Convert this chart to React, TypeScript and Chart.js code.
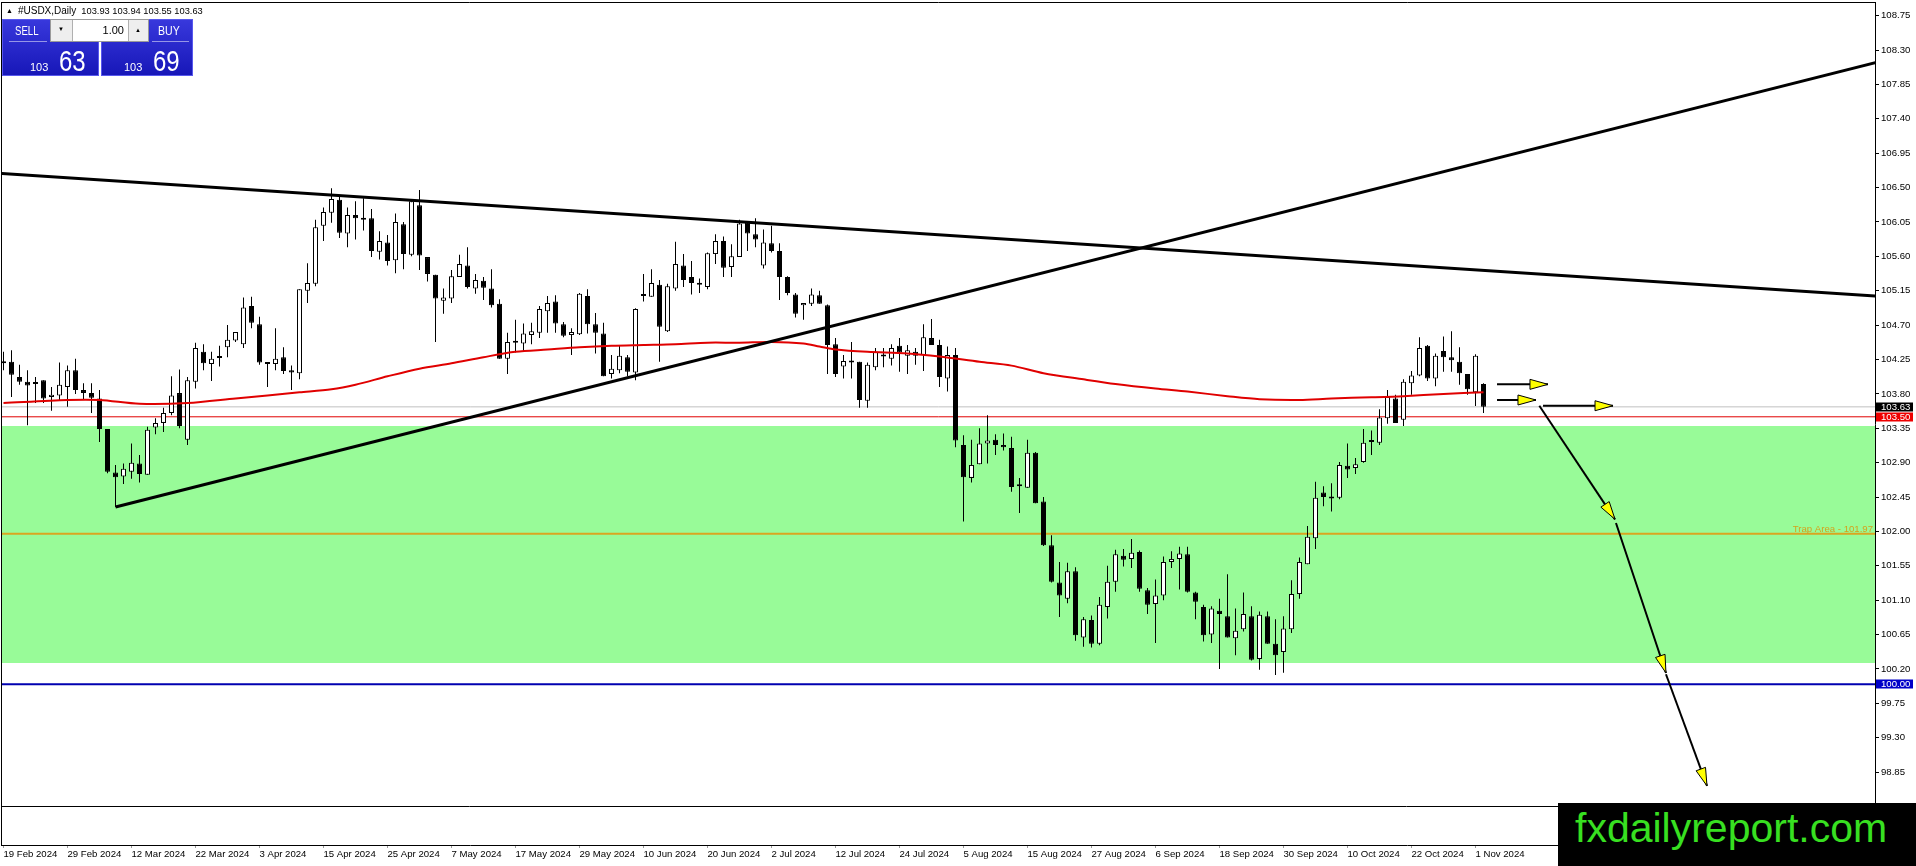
import React, { useEffect, useRef } from "react";
import { Chart, registerables } from "chart.js";

Chart.register(...registerables);

const FONT = "'Liberation Sans', Arial, sans-serif";
const AXIS_FONT_SIZE = 9.6;

// ---------- DATA ----------
const symbolName = "#USDX,Daily";
const askPrice = 103.69;
const lotSize = "1.00";

const openP = [
  104.20, 104.22, 104.02, 103.96, 103.94, 103.98, 103.76, 103.78, 103.89, 104.11,
  103.85, 103.81, 103.74, 103.34, 102.77, 102.72, 102.78, 102.89, 102.74, 103.36,
  103.42, 103.55, 103.81, 103.20, 103.96, 104.35, 104.19, 104.27, 104.41, 104.50,
  104.45, 104.95, 104.71, 104.21, 104.19, 104.28, 104.11, 104.07, 105.15, 105.24,
  106.00, 106.17, 106.34, 105.90, 106.14, 106.08, 106.10, 105.66, 105.78, 105.55,
  106.02, 105.62, 106.27, 105.59, 105.36, 105.02, 105.05, 105.33, 105.48, 105.18,
  105.28, 105.18, 104.98, 104.26, 104.48, 104.46, 104.57, 104.60, 104.88, 105.01,
  104.71, 104.57, 104.58, 105.08, 104.71, 104.59, 104.06, 104.11, 104.28, 104.08,
  105.09, 105.07, 105.23, 104.62, 105.18, 105.48, 105.33, 105.24, 105.20, 105.63,
  105.80, 105.46, 105.59, 106.04, 105.89, 105.48, 105.77, 105.67, 105.33, 105.10,
  104.96, 104.98, 105.09, 104.96, 104.45, 104.16, 104.22, 104.22, 103.71, 104.15,
  104.29, 104.26, 104.43, 104.30, 104.35, 104.31, 104.53, 104.44, 104.00, 104.31,
  103.13, 102.70, 102.88, 103.15, 103.20, 103.13, 103.09, 102.59, 102.57, 103.03,
  102.39, 101.82, 101.33, 101.12, 101.48, 100.61, 100.84, 100.53, 101.01, 101.34,
  101.68, 101.64, 101.73, 101.23, 101.05, 101.16, 101.60, 101.64, 101.70, 101.20,
  101.01, 100.65, 100.96, 100.89, 100.60, 100.72, 100.89, 100.33, 100.89, 100.53,
  100.42, 100.72, 101.18, 101.57, 101.91, 102.51, 102.45, 102.44, 102.86, 102.83,
  102.91, 103.17, 103.16, 103.48, 103.74, 103.46, 103.94, 104.04, 104.43, 104.00,
  104.36, 104.28, 104.22, 104.06, 103.82, 103.93,
];

const highP = [
  104.35, 104.37, 104.18, 104.11, 104.02, 103.98, 103.89, 104.21, 104.17, 104.26,
  103.94, 103.94, 103.85, 103.34, 102.87, 102.89, 103.15, 103.00, 103.37, 103.48,
  103.62, 104.03, 104.12, 104.02, 104.47, 104.45, 104.35, 104.43, 104.70, 104.61,
  105.06, 105.07, 104.81, 104.21, 104.66, 104.41, 104.17, 105.17, 105.51, 106.08,
  106.24, 106.49, 106.40, 106.24, 106.32, 106.36, 106.22, 105.93, 105.88, 106.16,
  106.05, 106.32, 106.47, 105.59, 105.36, 105.18, 105.42, 105.62, 105.72, 105.37,
  105.33, 105.43, 105.04, 104.60, 104.77, 104.72, 104.73, 104.95, 105.08, 105.09,
  104.74, 104.66, 105.12, 105.17, 104.86, 104.73, 104.31, 104.43, 104.31, 104.92,
  105.37, 105.43, 105.29, 105.24, 105.79, 105.63, 105.54, 105.31, 105.65, 105.89,
  105.86, 105.76, 106.08, 106.05, 106.10, 105.95, 106.00, 105.77, 105.34, 105.12,
  104.99, 105.18, 105.15, 104.97, 104.53, 104.31, 104.48, 104.22, 104.21, 104.40,
  104.40, 104.45, 104.53, 104.44, 104.40, 104.71, 104.78, 104.51, 104.42, 104.40,
  103.26, 103.20, 103.35, 103.52, 103.27, 103.28, 103.24, 102.70, 103.20, 103.04,
  102.45, 101.95, 101.60, 101.59, 101.53, 100.88, 100.90, 101.14, 101.55, 101.76,
  101.77, 101.90, 101.75, 101.26, 101.37, 101.67, 101.74, 101.80, 101.80, 101.21,
  101.04, 101.02, 101.12, 101.44, 100.99, 101.20, 101.02, 100.95, 100.95, 100.85,
  100.89, 101.36, 101.66, 102.07, 102.65, 102.59, 102.63, 102.91, 103.15, 102.96,
  103.34, 103.32, 103.60, 103.85, 103.79, 103.99, 104.10, 104.54, 104.44, 104.33,
  104.55, 104.62, 104.41, 104.06, 104.32, 103.94,
];

const lowP = [
  104.11, 103.76, 103.92, 103.39, 103.68, 103.68, 103.58, 103.72, 103.63, 103.80,
  103.72, 103.55, 103.17, 102.76, 102.32, 102.62, 102.69, 102.64, 102.74, 103.27,
  103.30, 103.52, 103.35, 103.13, 103.87, 104.11, 103.97, 104.16, 104.28, 104.48,
  104.40, 104.66, 104.18, 103.89, 104.11, 104.06, 103.85, 103.99, 104.99, 105.21,
  105.80, 106.04, 105.84, 105.72, 105.82, 105.94, 105.59, 105.56, 105.48, 105.38,
  105.43, 105.60, 105.42, 105.27, 104.48, 104.85, 104.99, 105.33, 105.18, 105.11,
  105.03, 104.93, 104.26, 104.06, 104.34, 104.35, 104.45, 104.53, 104.60, 104.60,
  104.54, 104.31, 104.57, 104.59, 104.33, 104.03, 104.00, 104.07, 104.03, 103.98,
  105.01, 105.07, 104.22, 104.61, 105.15, 105.20, 105.10, 105.12, 105.17, 105.50,
  105.33, 105.33, 105.59, 105.67, 105.72, 105.44, 105.65, 105.03, 105.09, 104.80,
  104.77, 104.95, 104.98, 104.06, 104.02, 104.00, 104.00, 103.62, 103.62, 104.11,
  104.15, 104.17, 104.09, 104.06, 104.18, 104.10, 104.44, 103.89, 103.83, 103.10,
  102.13, 102.64, 102.88, 102.89, 103.00, 103.06, 102.52, 102.24, 102.57, 102.37,
  101.81, 101.33, 100.88, 101.06, 100.57, 100.49, 100.48, 100.51, 100.86, 101.21,
  101.54, 101.52, 101.21, 100.92, 100.54, 101.10, 101.52, 101.24, 101.20, 100.85,
  100.56, 100.54, 100.20, 100.61, 100.38, 100.69, 100.31, 100.19, 100.53, 100.12,
  100.15, 100.67, 101.12, 101.57, 101.77, 102.33, 102.26, 102.42, 102.70, 102.75,
  102.90, 103.00, 103.13, 103.41, 103.42, 103.38, 103.79, 104.03, 103.97, 103.90,
  104.09, 104.09, 103.92, 103.79, 103.64, 103.55,
];

const closeP = [
  104.22, 104.05, 103.96, 103.91, 103.93, 103.74, 103.79, 103.92, 104.11, 103.85,
  103.81, 103.75, 103.34, 102.78, 102.71, 102.82, 102.90, 102.75, 103.33, 103.42,
  103.55, 103.78, 103.38, 103.98, 104.40, 104.20, 104.26, 104.27, 104.51, 104.61,
  104.93, 104.73, 104.21, 104.19, 104.26, 104.10, 104.08, 105.17, 105.25, 105.98,
  106.18, 106.35, 105.91, 106.14, 106.10, 106.10, 105.67, 105.80, 105.54, 106.05,
  105.63, 106.32, 105.61, 105.37, 105.05, 105.06, 105.34, 105.50, 105.20, 105.29,
  105.19, 104.96, 104.26, 104.48, 104.47, 104.59, 104.62, 104.91, 104.99, 104.72,
  104.56, 104.61, 105.11, 104.71, 104.60, 104.03, 104.13, 104.30, 104.09, 104.91,
  105.08, 105.25, 104.68, 105.21, 105.50, 105.29, 105.25, 105.23, 105.64, 105.80,
  105.45, 105.60, 106.03, 105.90, 105.82, 105.78, 105.67, 105.33, 105.12, 104.85,
  104.99, 105.10, 104.98, 104.44, 104.06, 104.23, 104.21, 103.72, 104.18, 104.35,
  104.29, 104.40, 104.34, 104.37, 104.30, 104.54, 104.44, 104.02, 104.31, 103.19,
  102.71, 102.87, 103.15, 103.19, 103.13, 103.10, 102.58, 102.59, 103.03, 102.37,
  101.82, 101.34, 101.16, 101.48, 100.64, 100.85, 100.53, 101.04, 101.34, 101.70,
  101.63, 101.72, 101.25, 101.04, 101.16, 101.60, 101.64, 101.71, 101.21, 101.08,
  100.64, 100.99, 100.92, 100.61, 100.70, 100.92, 100.32, 100.91, 100.53, 100.38,
  100.73, 101.18, 101.60, 101.93, 102.44, 102.45, 102.43, 102.87, 102.81, 102.88,
  103.16, 103.17, 103.49, 103.76, 103.42, 103.96, 104.04, 104.40, 104.00, 104.30,
  104.28, 104.24, 104.07, 103.86, 104.30, 103.63,
];

// Moving average (red) read at sample bars
const maIdx = [0, 8, 12, 17, 23, 29, 37, 41, 44, 48, 52, 56, 60, 64, 68, 72, 76, 80, 84, 88, 92, 96, 100, 102, 104, 108, 113, 117, 122, 126, 130, 135, 139, 144, 148, 153, 157, 162, 166, 171, 175, 180, 185];
const maVal = [103.68, 103.72, 103.72, 103.67, 103.68, 103.74, 103.82, 103.86, 103.92, 104.03, 104.13, 104.20, 104.28, 104.35, 104.38, 104.41, 104.43, 104.44, 104.45, 104.47, 104.47, 104.48, 104.46, 104.42, 104.38, 104.35, 104.33, 104.29, 104.22, 104.17, 104.07, 103.99, 103.93, 103.87, 103.83, 103.77, 103.73, 103.72, 103.74, 103.755, 103.77, 103.80, 103.82];

// Trend lines (bar index, price)
const resistX = [-1, 235];
const resistY = [106.691, 105.073];
const supportX = [14, 235];
const supportY = [102.32, 108.163];

// Horizontal levels
const zoneHigh = 103.38;
const zoneLow = 100.28;
const redLevel = 103.5;
const trapLevel = 101.97;
const blueLevel = 100.0;

// Arrows (bar index / price)
const arrowX0 = [186.69, 186.69, 192.44, 191.98, 201.56, 207.81];
const arrowY0 = [103.925, 103.72, 103.645, 103.645, 102.11, 100.13];
const arrowX1 = [193.06, 191.56, 201.19, 201.44, 207.81, 212.94];
const arrowY1 = [103.925, 103.72, 103.645, 102.158, 100.147, 98.668];

// Axis labels
const dateTickIdx = [0, 8, 16, 24, 32, 40, 48, 56, 64, 72, 80, 88, 96, 104, 112, 120, 128, 136, 144, 152, 160, 168, 176, 184];
const dateLabels = [
  "19 Feb 2024", "29 Feb 2024", "12 Mar 2024", "22 Mar 2024", "3 Apr 2024", "15 Apr 2024",
  "25 Apr 2024", "7 May 2024", "17 May 2024", "29 May 2024", "10 Jun 2024", "20 Jun 2024",
  "2 Jul 2024", "12 Jul 2024", "24 Jul 2024", "5 Aug 2024", "15 Aug 2024", "27 Aug 2024",
  "6 Sep 2024", "18 Sep 2024", "30 Sep 2024", "10 Oct 2024", "22 Oct 2024", "1 Nov 2024",
];
const priceTicks = [108.75, 108.3, 107.85, 107.4, 106.95, 106.5, 106.05, 105.6, 105.15, 104.7, 104.25, 103.8, 103.35, 102.9, 102.45, 102.0, 101.55, 101.1, 100.65, 100.2, 99.75, 99.3, 98.85, 98.4];

// View ranges
const X_MIN = -0.1875;
const X_MAX = 233.9375;
const Y_MAX = 108.9162;
const Y_MIN = 97.8953;
const MAIN_BOTTOM_PX = 806;

function drawArrow(ctx: CanvasRenderingContext2D, x0: number, y0: number, x1: number, y1: number) {
  ctx.save();
  ctx.strokeStyle = "#000";
  ctx.lineWidth = 2;
  ctx.beginPath();
  ctx.moveTo(x0, y0);
  ctx.lineTo(x1, y1);
  ctx.stroke();
  const ang = Math.atan2(y1 - y0, x1 - x0);
  const L = 18;
  const W = 5;
  const bx = x1 - L * Math.cos(ang);
  const by = y1 - L * Math.sin(ang);
  const px = -Math.sin(ang) * W;
  const py = Math.cos(ang) * W;
  ctx.beginPath();
  ctx.moveTo(x1, y1);
  ctx.lineTo(bx + px, by + py);
  ctx.lineTo(bx - px, by - py);
  ctx.closePath();
  ctx.fillStyle = "#ffff00";
  ctx.fill();
  ctx.lineWidth = 1;
  ctx.stroke();
  ctx.restore();
}

const zonePlugin = {
  id: "zone",
  beforeDatasetsDraw(chart: any) {
    const { ctx, chartArea: a, scales } = chart;
    const y = scales.y;
    const yt = y.getPixelForValue(zoneHigh);
    const yb = y.getPixelForValue(zoneLow);
    ctx.save();
    ctx.fillStyle = "#98fb98";
    ctx.fillRect(a.left, Math.round(yt), a.right - a.left, Math.round(yb) - Math.round(yt));
    ctx.restore();
  },
};

const overlayPlugin = {
  id: "overlay",
  afterDatasetsDraw(chart: any) {
    const { ctx, chartArea: a, scales } = chart;
    const x = scales.x;
    const y = scales.y;
    ctx.save();
    ctx.beginPath();
    ctx.rect(a.left, a.top, a.right - a.left, a.bottom - a.top);
    ctx.clip();
    // trap label
    ctx.font = `${AXIS_FONT_SIZE}px ${FONT}`;
    ctx.fillStyle = "#d4a21c";
    ctx.textAlign = "right";
    ctx.textBaseline = "alphabetic";
    ctx.fillText(`Trap Area - ${trapLevel.toFixed(2)}`, a.right - 2, y.getPixelForValue(trapLevel) - 2);
    // arrows
    for (let k = 0; k < arrowX0.length; k++) {
      drawArrow(
        ctx,
        x.getPixelForValue(arrowX0[k]),
        y.getPixelForValue(arrowY0[k]),
        x.getPixelForValue(arrowX1[k]),
        y.getPixelForValue(arrowY1[k])
      );
    }
    ctx.restore();
  },
  afterDraw(chart: any) {
    const { ctx, chartArea: a, scales } = chart;
    const y = scales.y;
    ctx.save();
    // frame
    ctx.strokeStyle = "#000";
    ctx.lineWidth = 1;
    ctx.beginPath();
    ctx.moveTo(1, 2.5);
    ctx.lineTo(a.right + 1, 2.5);
    ctx.moveTo(1.5, 2);
    ctx.lineTo(1.5, a.bottom + 1);
    ctx.moveTo(1, MAIN_BOTTOM_PX + 0.5);
    ctx.lineTo(a.right, MAIN_BOTTOM_PX + 0.5);
    ctx.stroke();
    // price tags on the axis
    const tags = [
      { v: closeP[closeP.length - 1], bg: "#000000" },
      { v: redLevel, bg: "#ee0000" },
      { v: blueLevel, bg: "#0000c8" },
    ];
    ctx.font = `${AXIS_FONT_SIZE}px ${FONT}`;
    ctx.textBaseline = "middle";
    ctx.textAlign = "left";
    for (const t of tags) {
      const py = Math.round(y.getPixelForValue(t.v));
      ctx.fillStyle = t.bg;
      ctx.fillRect(a.right + 1, py - 4.5, 37, 9);
      ctx.fillStyle = "#ffffff";
      ctx.fillText(t.v.toFixed(2), a.right + 6, py + 0.5);
    }
    ctx.restore();
  },
};

function hline(v: number, color: string, width: number, order: number) {
  return {
    type: "line" as const,
    data: [
      { x: X_MIN, y: v },
      { x: X_MAX, y: v },
    ],
    borderColor: color,
    borderWidth: width,
    pointRadius: 0,
    order,
  };
}

function Panel() {
  const blue = "linear-gradient(#3838dc, #1717b8)";
  const txt = (extra: React.CSSProperties): React.CSSProperties => ({
    position: "absolute",
    color: "#fff",
    fontFamily: FONT,
    whiteSpace: "nowrap",
    transformOrigin: "left top",
    ...extra,
  });
  return (
    <>
      <div
        style={{
          position: "absolute",
          left: 6,
          top: 5,
          fontFamily: FONT,
          fontSize: 10,
          lineHeight: "12px",
          color: "#000",
          whiteSpace: "nowrap",
        }}
      >
        <span style={{ fontSize: 7, position: "relative", top: -1 }}>▲</span>
        <span style={{ marginLeft: 5 }}>{symbolName}</span>
        <span style={{ marginLeft: 5, fontSize: 9.3 }}>
          {[openP, highP, lowP, closeP].map((a) => a[a.length - 1].toFixed(2)).join(" ")}
        </span>
      </div>
      {/* SELL panel */}
      <div
        style={{
          position: "absolute",
          left: 2,
          top: 19,
          width: 97,
          height: 57,
          background: blue,
          border: "1px solid #5858ee",
          boxSizing: "border-box",
        }}
      />
      {/* BUY panel */}
      <div
        style={{
          position: "absolute",
          left: 101,
          top: 19,
          width: 92,
          height: 57,
          background: blue,
          border: "1px solid #5858ee",
          boxSizing: "border-box",
        }}
      />
      <div style={{ position: "absolute", left: 9, top: 41, width: 38, height: 1, background: "rgba(255,255,255,0.5)" }} />
      <div style={{ position: "absolute", left: 152, top: 41, width: 37, height: 1, background: "rgba(255,255,255,0.5)" }} />
      <div style={txt({ left: 15, top: 25, fontSize: 12, lineHeight: "12px", transform: "scaleX(0.8)" })}>SELL</div>
      <div style={txt({ left: 158, top: 25, fontSize: 12, lineHeight: "12px", transform: "scaleX(0.88)" })}>BUY</div>
      {/* lot control */}
      <div
        style={{
          position: "absolute",
          left: 50,
          top: 19,
          width: 99,
          height: 23,
          background: "#fff",
          border: "1px solid #9a9a9a",
          boxSizing: "border-box",
        }}
      >
        <div style={{ position: "absolute", left: 0, top: 0, width: 21, height: 21, background: "#eeeeee", borderRight: "1px solid #b0b0b0" }}>
          <span style={{ position: "absolute", left: 7, top: 6, fontSize: 6, lineHeight: "6px", color: "#000" }}>▼</span>
        </div>
        <div style={{ position: "absolute", right: 0, top: 0, width: 19, height: 21, background: "#eeeeee", borderLeft: "1px solid #b0b0b0" }}>
          <span style={{ position: "absolute", left: 6, top: 7, fontSize: 6, lineHeight: "6px", color: "#000" }}>▲</span>
        </div>
        <span
          style={{
            position: "absolute",
            right: 24,
            top: 5,
            fontFamily: FONT,
            fontSize: 11,
            lineHeight: "11px",
            color: "#000",
          }}
        >
          {lotSize}
        </span>
      </div>
      {/* prices */}
      {(() => {
        const bid = closeP[closeP.length - 1].toFixed(2);
        const ask = askPrice.toFixed(2);
        const [bBig, bSmall] = [bid.slice(-2), bid.slice(0, 3)];
        const [aBig, aSmall] = [ask.slice(-2), ask.slice(0, 3)];
        return (
          <>
            <div style={txt({ left: 30, top: 61.7, fontSize: 11, lineHeight: "11px" })}>{bSmall}</div>
            <div style={txt({ left: 59, top: 46, fontSize: 30, lineHeight: "30px", transform: "scaleX(0.8)" })}>{bBig}</div>
            <div style={txt({ left: 124, top: 61.7, fontSize: 11, lineHeight: "11px" })}>{aSmall}</div>
            <div style={txt({ left: 153, top: 46, fontSize: 30, lineHeight: "30px", transform: "scaleX(0.8)" })}>{aBig}</div>
          </>
        );
      })()}
    </>
  );
}

export default function App() {
  const canvasRef = useRef<HTMLCanvasElement | null>(null);

  useEffect(() => {
    document.body.style.margin = "0";
    const canvas = canvasRef.current;
    if (!canvas) return;
    const bodyColors = openP.map((o, i) => (closeP[i] >= o ? "#ffffff" : "#000000"));
    const chart = new Chart(canvas, {
      type: "bar",
      data: {
        datasets: [
          {
            type: "line",
            data: resistX.map((x, k) => ({ x, y: resistY[k] })),
            borderColor: "#000",
            borderWidth: 3,
            pointRadius: 0,
            order: 0,
          } as any,
          {
            type: "line",
            data: supportX.map((x, k) => ({ x, y: supportY[k] })),
            borderColor: "#000",
            borderWidth: 3,
            pointRadius: 0,
            order: 0,
          } as any,
          {
            type: "line",
            data: maIdx.map((x, k) => ({ x, y: maVal[k] })),
            borderColor: "#e00000",
            borderWidth: 2,
            pointRadius: 0,
            tension: 0.3,
            order: 1,
          } as any,
          {
            type: "bar",
            data: openP.map((o, i) => ({ x: i, y: [o, closeP[i]] })),
            backgroundColor: bodyColors,
            borderColor: "#000",
            borderWidth: 1,
            borderSkipped: false,
            barThickness: 5,
            minBarLength: 2,
            inflateAmount: 0,
            grouped: false,
            order: 2,
          } as any,
          {
            type: "bar",
            data: lowP.map((l, i) => ({ x: i, y: [l, highP[i]] })),
            backgroundColor: "#000",
            borderWidth: 0,
            barThickness: 1,
            inflateAmount: 0,
            grouped: false,
            order: 3,
          } as any,
          hline(closeP[closeP.length - 1], "#c0c0c0", 1, 4) as any,
          hline(redLevel, "#e00000", 1, 4) as any,
          hline(trapLevel, "#daa520", 2, 4) as any,
          hline(blueLevel, "#0000b0", 2, 4) as any,
        ],
      },
      options: {
        animation: false,
        responsive: false,
        maintainAspectRatio: false,
        devicePixelRatio: 1,
        events: [],
        layout: { padding: { left: 2, top: 3, right: 0, bottom: 0 } },
        plugins: { legend: { display: false }, tooltip: { enabled: false } },
        scales: {
          x: {
            type: "linear",
            position: "bottom",
            min: X_MIN,
            max: X_MAX,
            offset: false,
            grid: { offset: false, drawOnChartArea: false, drawTicks: true, tickLength: 3, color: "#9a9a9a" },
            border: { display: true, color: "#000", width: 1 },
            ticks: {
              autoSkip: false,
              maxRotation: 0,
              minRotation: 0,
              align: "start",
              padding: 1,
              color: "#000",
              font: { family: FONT, size: AXIS_FONT_SIZE },
              callback: (v: any) => {
                const k = dateTickIdx.indexOf(Number(v));
                return k >= 0 ? dateLabels[k] : "";
              },
            },
            afterBuildTicks: (s: any) => {
              s.ticks = dateTickIdx.map((v) => ({ value: v }));
            },
            afterFit: (s: any) => {
              s.height = 21;
              s.paddingLeft = 0;
              s.paddingRight = 0;
              s.paddingTop = 0;
              s.paddingBottom = 0;
            },
          },
          y: {
            type: "linear",
            position: "right",
            min: Y_MIN,
            max: Y_MAX,
            beginAtZero: false,
            grid: { drawOnChartArea: false, drawTicks: true, tickLength: 4, color: "#000" },
            border: { display: true, color: "#000", width: 1 },
            ticks: {
              autoSkip: false,
              padding: 2,
              color: "#000",
              font: { family: FONT, size: AXIS_FONT_SIZE },
              callback: (v: any) => Number(v).toFixed(2),
            },
            afterBuildTicks: (s: any) => {
              s.ticks = priceTicks.map((v) => ({ value: v }));
            },
            afterFit: (s: any) => {
              s.width = 41;
              s.paddingLeft = 0;
              s.paddingRight = 0;
              s.paddingTop = 0;
              s.paddingBottom = 0;
            },
          },
        },
      } as any,
      plugins: [zonePlugin, overlayPlugin],
    });
    return () => chart.destroy();
  }, []);

  return (
    <div
      style={{
        position: "fixed",
        left: 0,
        top: 0,
        width: 1916,
        height: 866,
        overflow: "hidden",
        background: "#fff",
      }}
    >
      <canvas ref={canvasRef} width={1916} height={866} style={{ position: "absolute", left: 0, top: 0, width: 1916, height: 866 }} />
      <Panel />
      <div
        style={{
          position: "absolute",
          left: 1558,
          top: 803,
          width: 358,
          height: 63,
          background: "#000",
        }}
      >
        <div
          style={{
            position: "absolute",
            left: 17,
            top: 5,
            fontFamily: FONT,
            fontSize: 41,
            lineHeight: "41px",
            color: "#38e021",
            whiteSpace: "nowrap",
          }}
        >
          fxdailyreport.com
        </div>
      </div>
    </div>
  );
}
